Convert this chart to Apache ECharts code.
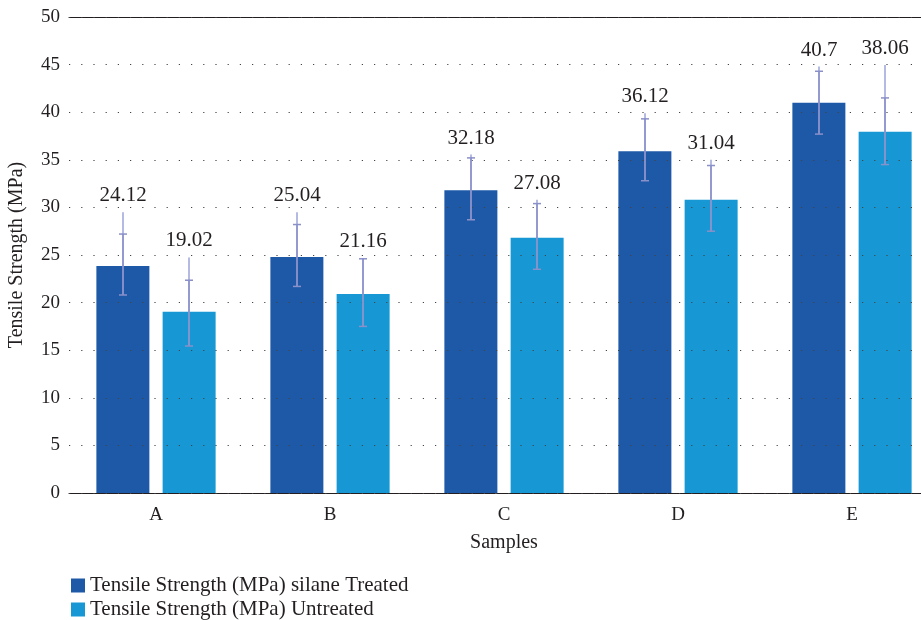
<!DOCTYPE html>
<html>
<head>
<meta charset="utf-8">
<script src="https://cdn.jsdelivr.net/npm/echarts@6/dist/echarts.min.js"></script>
<style>
  html, body { margin: 0; padding: 0; background: #fff; }
  #chart { width: 921px; height: 620px; }
</style>
</head>
<body>
<div id="chart"></div>
<script>
const samples = ['A', 'B', 'C', 'D', 'E'];

// bar heights as drawn
const treated = [23.85, 24.8, 31.8, 35.9, 41.0];
const untreated = [19.04, 20.9, 26.8, 30.8, 37.95];

// printed value labels
const treatedLabels = ['24.12', '25.04', '32.18', '36.12', '40.7'];
const untreatedLabels = ['19.02', '21.16', '27.08', '31.04', '38.06'];

// error bars: whisker top (no cap), upper cap, lower cap
const treatedTop = [29.5, 29.5, 35.55, 39.9, 44.8];
const treatedHi = [27.2, 28.2, 35.2, 39.3, 44.3];
const treatedLo = [20.8, 21.7, 28.7, 32.8, 37.7];
const untreatedTop = [24.75, 24.65, 30.8, 35.0, 44.96];
const untreatedHi = [22.35, 24.6, 30.4, 34.4, 41.5];
const untreatedLo = [15.44, 17.5, 23.5, 27.5, 34.5];

const FONT = 'Liberation Serif';
const BAR_W = 53;
const SHIFT = 33;

function errItems(top, hi, lo, labels) {
  return samples.map((s, i) => [i, top[i], hi[i], lo[i], labels[i]]);
}

function errRender(shift) {
  return function (params, api) {
    const cat = api.value(0);
    const pTop = api.coord([cat, api.value(1)]);
    const pHi = api.coord([cat, api.value(2)]);
    const pLo = api.coord([cat, api.value(3)]);
    const x = pTop[0] + shift;
    const c = 4;
    const light = { stroke: 'rgba(150,156,214,0.7)', lineWidth: 2 };
    const dark = { stroke: '#8a90c8', lineWidth: 1.5 };
    return {
      type: 'group',
      children: [
        { type: 'line', shape: { x1: x, y1: pTop[1], x2: x, y2: pLo[1] }, style: light },
        { type: 'line', shape: { x1: x, y1: pHi[1], x2: x, y2: pLo[1] }, style: dark },
        { type: 'line', shape: { x1: x - c, y1: pHi[1], x2: x + c, y2: pHi[1] }, style: dark },
        { type: 'line', shape: { x1: x - c, y1: pLo[1], x2: x + c, y2: pLo[1] }, style: dark },
        {
          type: 'text',
          x: x, y: pTop[1] - 6,
          style: {
            text: api.value(4), fill: '#231f20', font: '21px "' + FONT + '"',
            align: 'center', verticalAlign: 'bottom'
          }
        }
      ]
    };
  };
}

const chart = echarts.init(document.getElementById('chart'), null, { renderer: 'canvas' });
chart.setOption({
  animation: false,
  textStyle: { fontFamily: FONT },
  grid: { left: 69, top: 17, width: 870, height: 476, outerBoundsMode: 'none', containLabel: false },
  legend: {
    orient: 'vertical', left: 66, top: 570, height: 60, itemGap: 3,
    itemWidth: 14, itemHeight: 14, icon: 'rect',
    textStyle: { fontFamily: FONT, fontSize: 21, color: '#231f20' },
    data: ['Tensile Strength (MPa) silane Treated', 'Tensile Strength (MPa) Untreated']
  },
  xAxis: [{
    type: 'category', data: samples,
    name: 'Samples', nameLocation: 'middle', nameGap: 40,
    nameTextStyle: { fontFamily: FONT, fontSize: 20, color: '#231f20' },
    axisLine: { lineStyle: { color: '#231f20', width: 1 } },
    axisTick: { show: false },
    axisLabel: { fontFamily: FONT, fontSize: 19, color: '#231f20', margin: 13 }
  }, {
    type: 'category', data: samples, position: 'top',
    axisLine: { show: true, lineStyle: { color: '#231f20', width: 1 } },
    axisTick: { show: false }, axisLabel: { show: false }
  }],
  yAxis: {
    type: 'value', min: 0, max: 50, interval: 5, z: 5,
    name: 'Tensile Strength (MPa)', nameLocation: 'middle', nameGap: 42,
    nameTextStyle: { fontFamily: FONT, fontSize: 20, color: '#231f20' },
    axisLine: { show: false }, axisTick: { show: false },
    axisLabel: { fontFamily: FONT, fontSize: 19, color: '#231f20', margin: 9 },
    splitLine: { lineStyle: { color: '#444', width: 1.2, type: [1.2, 11] } }
  },
  series: [
    {
      name: 'Tensile Strength (MPa) silane Treated', type: 'bar',
      data: treated, barWidth: BAR_W, barGap: '25%',
      itemStyle: { color: '#1e59a8' }
    },
    {
      name: 'Tensile Strength (MPa) Untreated', type: 'bar',
      data: untreated, barWidth: BAR_W, barGap: '25%',
      itemStyle: { color: '#1798d4' }
    },
    {
      type: 'custom', z: 10, renderItem: errRender(-SHIFT),
      data: errItems(treatedTop, treatedHi, treatedLo, treatedLabels)
    },
    {
      type: 'custom', z: 10, renderItem: errRender(SHIFT),
      data: errItems(untreatedTop, untreatedHi, untreatedLo, untreatedLabels)
    }
  ]
});
</script>
</body>
</html>
